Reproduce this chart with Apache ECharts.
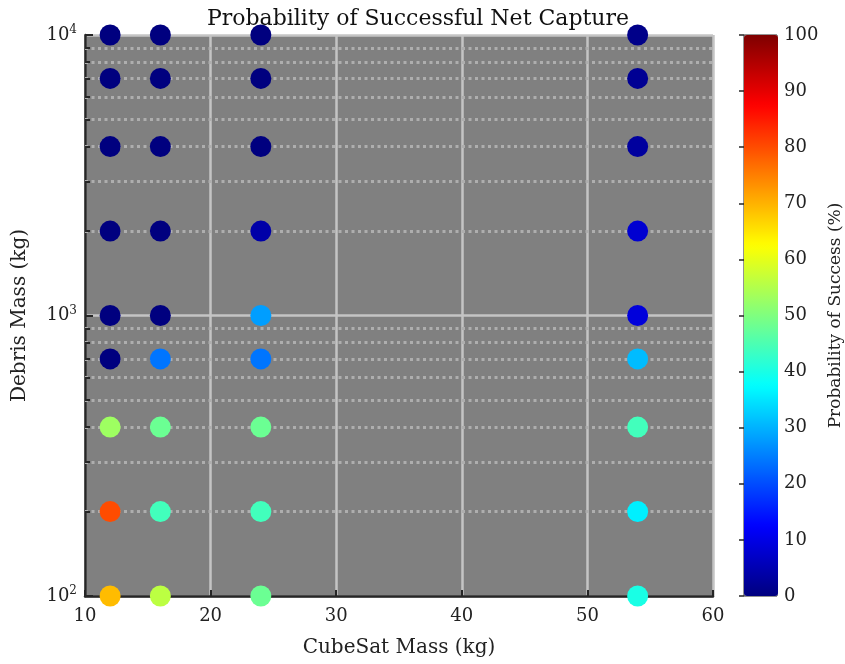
<!DOCTYPE html>
<html>
<head>
<meta charset="utf-8">
<script src="https://cdn.jsdelivr.net/npm/echarts@6/dist/echarts.min.js"></script>
<style>
  html, body { margin: 0; padding: 0; background: #fff; }
  #chart { width: 845px; height: 664px; }
</style>
</head>
<body>
<div id="chart"></div>
<script>
// CubeSat masses tested (kg) and debris masses (kg)
const cubesatMass = [12, 16, 24, 54];
const debrisMass = [100, 200, 400, 700, 1000, 2000, 4000, 7000, 10000];

// Probability of success (%) for each CubeSat mass, listed in debrisMass order
const probCube12 = [69, 80, 53, 0, 0, 0, 0, 0, 0];
const probCube16 = [56, 44, 48, 24, 0, 0, 0, 0, 0];
const probCube24 = [48, 44, 48, 24, 28, 4, 0, 0, 0];
const probCube54 = [40, 36, 44, 31, 9, 8, 3, 2, 1];

// Axis ticks
const xTicks = [10, 20, 30, 40, 50, 60];
const colorTicks = [0, 10, 20, 30, 40, 50, 60, 70, 80, 90, 100];
const minorDebris = [200, 300, 400, 500, 600, 700, 800, 900,
                     2000, 3000, 4000, 5000, 6000, 7000, 8000, 9000];

const probColumns = [probCube12, probCube16, probCube24, probCube54];
const points = [];
cubesatMass.forEach((m, i) => {
  debrisMass.forEach((d, j) => points.push([m, d, probColumns[i][j]]));
});

// MATLAB-style jet colormap, evenly spaced stops
const jet = ['#00007f', '#0000ff', '#007fff', '#00ffff', '#7fff7f',
             '#ffff00', '#ff7f00', '#ff0000', '#7f0000'];

const FONT = 'DejaVu Serif';
const DARK = '#262626';
const TXT = '#222222';

// Dotted minor grid lines plus short inward minor ticks on the left spine
const dotted = { color: '#aeaeae', width: 3, type: [3, 3.5], opacity: 1 };
const minorMarks = minorDebris.map(v => [
  { coord: [xTicks[0], v], lineStyle: dotted },
  { coord: [xTicks[xTicks.length - 1], v] }
]);
const minorTickMarks = minorDebris.map(v => [
  { coord: [xTicks[0], v], lineStyle: { color: DARK, width: 2, type: 'solid' } },
  { coord: [xTicks[0] + 0.4, v] }
]);

const chart = echarts.init(document.getElementById('chart'), null, { renderer: 'canvas' });

chart.setOption({
  animation: false,
  backgroundColor: '#ffffff',
  textStyle: { fontFamily: FONT },
  title: {
    text: 'Probability of Successful Net Capture',
    left: 413,
    top: 3,
    textAlign: 'center',
    textStyle: { fontFamily: FONT, fontWeight: 'normal', fontSize: 22, color: '#111' }
  },
  grid: [
    { left: 85, right: 132, top: 35, bottom: 68, show: true, backgroundColor: '#808080', borderWidth: 0 },
    { left: 744, width: 34, top: 35, height: 561, show: true, backgroundColor: 'transparent',
      borderColor: DARK, borderWidth: 1 }
  ],
  xAxis: [
    {
      type: 'value', gridIndex: 0, min: 10, max: 60, interval: 10,
      name: 'CubeSat Mass (kg)', nameLocation: 'middle', nameGap: 42,
      nameTextStyle: { fontFamily: FONT, fontSize: 20, color: TXT },
      axisLine: { show: true, lineStyle: { color: DARK, width: 2.5 } },
      axisTick: { show: true, inside: true, length: 6, lineStyle: { color: DARK, width: 2 } },
      axisLabel: { fontFamily: FONT, fontSize: 18, color: TXT, margin: 11 },
      splitLine: { show: true, lineStyle: { color: '#c4c4c4', width: 2.5 } }
    },
    { type: 'value', gridIndex: 1, show: false, min: 0, max: 1 }
  ],
  yAxis: [
    {
      type: 'log', gridIndex: 0, min: 100, max: 10000, logBase: 10,
      name: 'Debris Mass (kg)', nameLocation: 'middle', nameGap: 55,
      nameTextStyle: { fontFamily: FONT, fontSize: 20, color: TXT },
      axisLine: { show: true, lineStyle: { color: DARK, width: 2.5 } },
      axisTick: { show: true, inside: true, length: 8, lineStyle: { color: DARK, width: 2 } },
      axisLabel: {
        margin: 8,
        formatter: v => '{b|10}{s|' + Math.round(Math.log10(v)) + '}',
        rich: {
          b: { fontFamily: FONT, fontSize: 18, color: TXT },
          s: { fontFamily: FONT, fontSize: 12, color: TXT, verticalAlign: 'top', padding: [0, 0, 10, 0] }
        }
      },
      splitLine: { show: true, lineStyle: { color: '#c4c4c4', width: 2.5 } }
    },
    {
      type: 'value', gridIndex: 1, position: 'right', min: 0, max: 100, interval: 10,
      name: 'Probability of Success (%)', nameLocation: 'middle', nameGap: 50, nameRotate: 90,
      nameTextStyle: { fontFamily: FONT, fontSize: 17, color: TXT },
      axisLine: { show: false },
      axisTick: { show: true, inside: true, length: 5, lineStyle: { color: DARK, width: 1.5 } },
      axisLabel: { fontFamily: FONT, fontSize: 18, color: TXT, margin: 7 },
      splitLine: { show: false }
    }
  ],
  visualMap: {
    type: 'continuous',
    min: colorTicks[0],
    max: colorTicks[colorTicks.length - 1],
    dimension: 2,
    seriesIndex: 0,
    orient: 'vertical',
    left: 744,
    top: 35,
    padding: 0,
    itemWidth: 34,
    itemHeight: 561,
    calculable: false,
    text: null,
    showLabel: false,
    inRange: { color: jet },
    z: 1
  },
  series: [
    {
      type: 'scatter',
      xAxisIndex: 0, yAxisIndex: 0,
      data: points,
      symbol: 'circle',
      symbolSize: 21,
      itemStyle: { opacity: 1 },
      z: 5
    },
    {
      type: 'scatter',
      xAxisIndex: 0, yAxisIndex: 0,
      data: [],
      z: 2,
      markLine: {
        silent: true,
        symbol: ['none', 'none'],
        label: { show: false },
        animation: false,
        lineStyle: dotted,
        data: minorMarks.concat(minorTickMarks)
      }
    }
  ]
});
</script>
</body>
</html>
